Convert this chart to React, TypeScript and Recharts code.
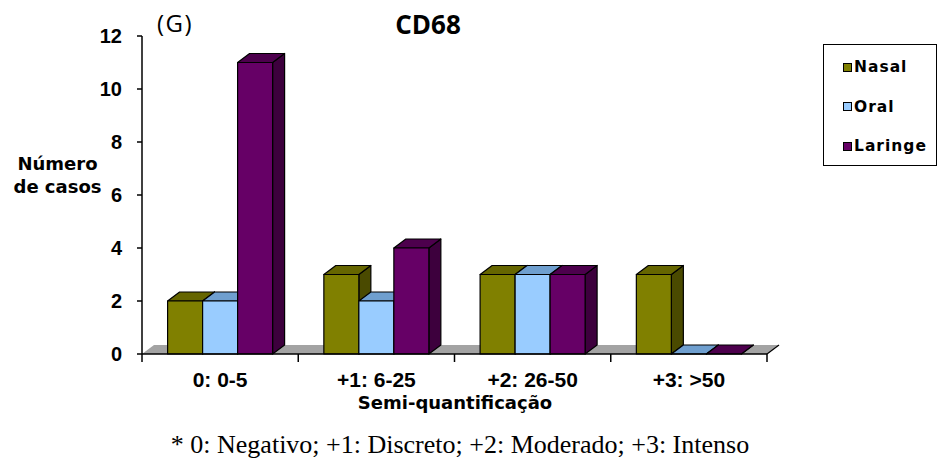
import { Bar, BarChart, ReferenceLine, XAxis, YAxis } from 'recharts';

// Semi-quantificação CD68 por localização
const categorias = ['0: 0-5', '+1: 6-25', '+2: 26-50', '+3: >50'];
const nasal = [2, 3, 3, 3];
const oral = [2, 2, 3, 0];
const laringe = [11, 4, 3, 0];
const yTicks = [0, 2, 4, 6, 8, 10, 12];

const SERIES = [
  { key: 'nasal', nome: 'Nasal', frente: '#808000', topo: '#666600', lado: '#4a4a00' },
  { key: 'oral', nome: 'Oral', frente: '#99ccff', topo: '#6f9fcf', lado: '#5c86b0' },
  { key: 'laringe', nome: 'Laringe', frente: '#660066', topo: '#4d004d', lado: '#3d003d' },
];

const dados = categorias.map((c, i) => ({
  categoria: c,
  nasal: nasal[i],
  oral: oral[i],
  laringe: laringe[i],
}));

// profundidade do efeito 3D
const DX = 12;
const DY = 9;

const FONTE_EIXO = '"Liberation Sans", Arial, sans-serif';
const FONTE_TITULO = '"DejaVu Sans", Verdana, sans-serif';

function barra3D(cores: { frente: string; topo: string; lado: string }) {
  return (props: any) => {
    const x = Number(props.x);
    const y = Number(props.y);
    const w = Number(props.width);
    const h = Math.max(0, Number(props.height) || 0);
    if (!isFinite(x) || !isFinite(y)) return <g />;
    return (
      <g stroke="#000" strokeWidth={1.2} strokeLinejoin="round">
        <polygon
          points={`${x + w},${y} ${x + w + DX},${y - DY} ${x + w + DX},${y + h - DY} ${x + w},${y + h}`}
          fill={cores.lado}
        />
        <polygon
          points={`${x},${y} ${x + DX},${y - DY} ${x + w + DX},${y - DY} ${x + w},${y}`}
          fill={cores.topo}
        />
        {h > 0 && <rect x={x} y={y} width={w} height={h} fill={cores.frente} />}
      </g>
    );
  };
}

// piso cinza atrás das barras + marcas entre categorias
function Piso(props: any) {
  const x1 = Number(props.x1);
  const x2 = Number(props.x2);
  const y = Number(props.y1);
  const n = categorias.length;
  const passo = (x2 - x1) / n;
  return (
    <g>
      <polygon
        points={`${x1},${y} ${x1 + DX},${y - DY} ${x2 + DX},${y - DY} ${x2},${y}`}
        fill="#a3a3a3"
      />
      <line x1={x2} y1={y} x2={x2 + DX} y2={y - DY} stroke="#000" strokeWidth={1.2} />
      {Array.from({ length: n + 1 }, (_, i) => (
        <line
          key={i}
          x1={x1 + i * passo}
          x2={x1 + i * passo}
          y1={y}
          y2={y + 8}
          stroke="#000"
          strokeWidth={1.5}
        />
      ))}
    </g>
  );
}

function Legenda() {
  return (
    <div
      style={{
        position: 'absolute',
        left: 823,
        top: 44,
        width: 114,
        height: 122,
        border: '1px solid #000',
        boxSizing: 'border-box',
        background: '#fff',
      }}
    >
      {SERIES.map((s, i) => (
        <div
          key={s.key}
          style={{
            position: 'absolute',
            left: 19,
            top: 22 + i * 39.5 - 10,
            height: 20,
            display: 'flex',
            alignItems: 'center',
            fontFamily: FONTE_TITULO,
            fontWeight: 700,
            fontSize: 15.5,
            letterSpacing: 1,
            color: '#000',
          }}
        >
          <span
            style={{
              display: 'inline-block',
              width: 7,
              height: 7,
              border: '1.5px solid #000',
              background: s.frente,
              marginRight: 2,
            }}
          />
          {s.nome}
        </div>
      ))}
    </div>
  );
}

export default function App() {
  return (
    <div style={{ position: 'absolute', left: 0, top: 0, width: 940, height: 461, background: '#fff' }}>
      <BarChart
        width={940}
        height={461}
        data={dados}
        margin={{ top: 36, right: 173, bottom: 67, left: 82 }}
        barCategoryGap={25.6}
        barGap={0}
      >
        <ReferenceLine
          y={0}
          ifOverflow="visible"
          zIndex={-10}
          shape={(p: any) => <Piso {...p} />}
        />
        <XAxis
          dataKey="categoria"
          height={40}
          tickLine={false}
          tickMargin={12}
          axisLine={{ stroke: '#000', strokeWidth: 1.5 }}
          tick={{ fontSize: 21, fontWeight: 700, fill: '#000', fontFamily: FONTE_EIXO }}
          interval={0}
        />
        <YAxis
          width={60}
          domain={[0, 12]}
          ticks={yTicks}
          interval={0}
          tickSize={5}
          tickMargin={15}
          tickLine={{ stroke: '#000', strokeWidth: 1.5 }}
          axisLine={{ stroke: '#000', strokeWidth: 1.5 }}
          tick={{ fontSize: 20, fontWeight: 700, fill: '#000', fontFamily: FONTE_EIXO }}
        />
        {SERIES.map((s) => (
          <Bar
            key={s.key}
            dataKey={s.key}
            name={s.nome}
            fill={s.frente}
            shape={barra3D(s)}
            isAnimationActive={false}
          />
        ))}
      </BarChart>

      <Legenda />

      <div
        style={{
          position: 'absolute',
          left: 157,
          top: 8,
          fontFamily: '"Open Sans", sans-serif',
          fontSize: 24,
          letterSpacing: 1.5,
          lineHeight: '30px',
          color: '#000',
        }}
      >
        (G)
      </div>
      <div
        style={{
          position: 'absolute',
          left: 328,
          width: 200,
          top: 9,
          textAlign: 'center',
          fontFamily: '"Open Sans", sans-serif',
          fontWeight: 700,
          fontSize: 26,
          lineHeight: '30px',
          color: '#000',
        }}
      >
        CD68
      </div>
      <div
        style={{
          position: 'absolute',
          left: 0,
          width: 115,
          top: 152,
          textAlign: 'center',
          fontFamily: FONTE_TITULO,
          fontWeight: 700,
          fontSize: 18,
          lineHeight: '23px',
          color: '#000',
        }}
      >
        Número
        <br />
        de casos
      </div>
      <div
        style={{
          position: 'absolute',
          left: 255,
          width: 400,
          top: 391,
          textAlign: 'center',
          fontFamily: FONTE_TITULO,
          fontWeight: 700,
          fontSize: 18,
          lineHeight: '24px',
          color: '#000',
        }}
      >
        Semi-quantificação
      </div>
      <div
        style={{
          position: 'absolute',
          left: 0,
          width: 920,
          top: 429,
          textAlign: 'center',
          fontFamily: '"Liberation Serif", "Times New Roman", serif',
          fontSize: 26,
          lineHeight: '32px',
          color: '#000',
        }}
      >
        * 0: Negativo; +1: Discreto; +2: Moderado; +3: Intenso
      </div>
    </div>
  );
}
